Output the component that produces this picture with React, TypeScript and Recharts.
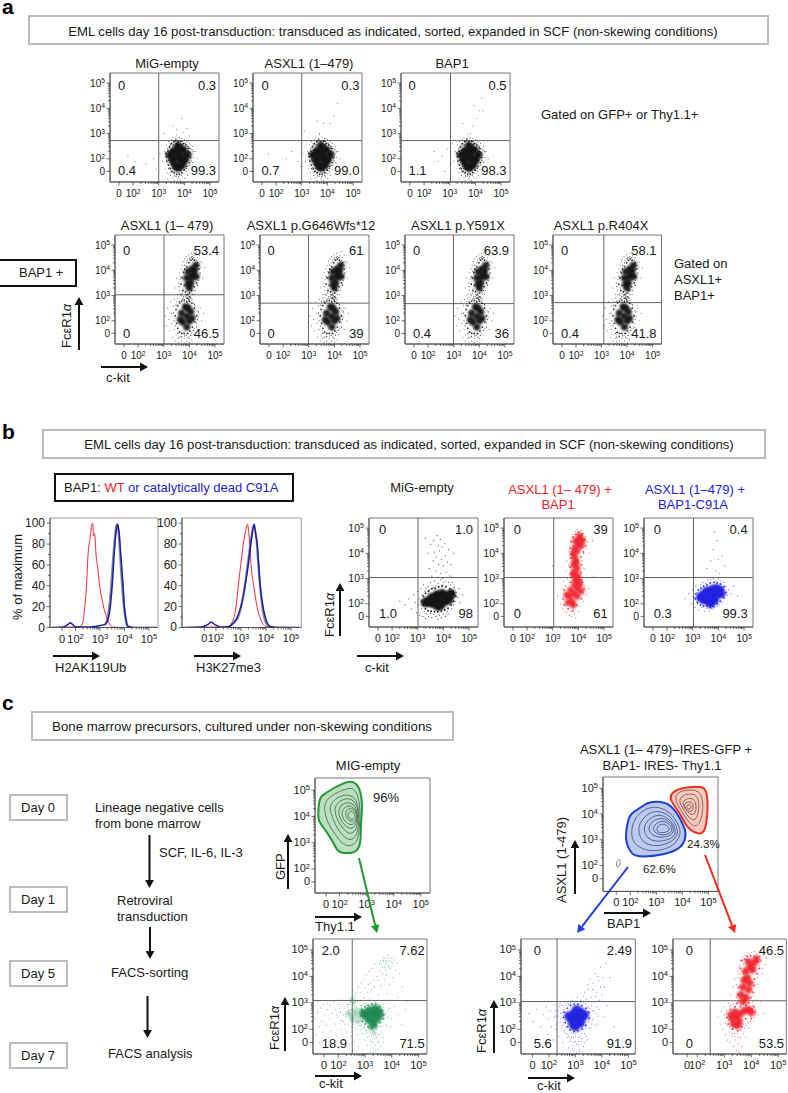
import React from "react";
import { Line, LineChart, ReferenceArea, ReferenceLine, Scatter, ScatterChart, XAxis, YAxis } from "recharts";

type Pt = [number, number];
const FONT = "'Liberation Sans', Arial, sans-serif";
const BLACK = "#151515";
const RED = "#f0202a";
const BLUE = "#2222e0";
const GREEN = "#1d8a50";

// cloud data, axis units: 10^n = n, "0" sits near 1.5
const lowCore: Pt[] = [[3.79,2.09],[3.6,2.3],[3.95,2.35],[3.55,1.95],[4,1.95],[3.75,1.65],[3.75,2.5],[3.45,2.15],[4.1,2.15],[3.85,2],[3.65,1.75],[3.9,1.75],[3.8,2.3],[3.68,2.12]];
const lowFringe: Pt[] = [[3.3,2.1],[3.32,1.9],[3.36,2.3],[3.38,1.75],[3.42,2.48],[3.45,1.6],[3.5,2.6],[3.52,1.5],[3.58,2.68],[3.6,1.45],[3.66,2.72],[3.7,1.38],[3.76,2.68],[3.8,1.4],[3.86,2.7],[3.9,1.45],[3.96,2.6],[4,1.55],[4.06,2.55],[4.1,1.7],[4.16,2.42],[4.2,1.85],[4.22,2.25],[4.25,2.05],[3.28,2.22],[3.4,1.95],[3.48,2.35],[3.5,1.78],[4.12,1.95],[4.15,2.3],[3.62,1.6],[3.85,1.55],[3.7,2.6],[3.9,2.55]];
const lowSpeck: Pt[] = [[3.25,2.2],[3.3,1.95],[3.35,2.4],[3.38,1.62],[3.42,2.2],[3.45,2.55],[3.48,1.48],[3.55,1.62],[3.58,2.55],[3.62,1.32],[3.68,2.78],[3.72,1.55],[3.78,1.28],[3.82,2.62],[3.88,1.35],[3.92,2.68],[3.98,1.55],[4.02,2.62],[4.08,1.62],[4.12,2.5],[4.18,1.75],[4.2,2.4],[4.25,1.95],[4.28,2.15],[4.3,2.35],[4.35,2.28],[4.33,1.85]];
const lowHalo: Pt[] = [[3.15,1.9],[3.22,2.3],[3.25,1.6],[3.3,2.55],[3.28,2.05],[3.35,1.45],[3.33,1.8],[3.38,2.7],[3.4,2.45],[3.36,1.2],[3.42,1.65],[3.44,2.62],[3.46,1.35],[3.5,2.75],[3.5,1.5],[3.52,2.55],[3.55,1.25],[3.55,2.85],[3.6,1.4],[3.62,2.7],[3.6,1.15],[3.65,2.8],[3.68,1.3],[3.7,2.95],[3.72,1.45],[3.75,2.7],[3.75,1.2],[3.8,2.85],[3.8,1.35],[3.85,2.7],[3.85,1.15],[3.88,1.48],[3.9,2.8],[3.92,1.28],[3.95,2.62],[3.98,1.42],[4,2.75],[4.02,1.22],[4.05,2.6],[4.08,1.5],[4.1,2.68],[4.12,1.35],[4.15,2.5],[4.18,1.6],[4.2,2.62],[4.22,1.75],[4.25,2.4],[4.28,1.9],[4.3,2.2],[4.32,2.5],[4.35,2.05],[4.38,1.7],[4.42,2.3],[4.5,2]];
const sparseA1: Pt[] = [[1.8,2.1],[2.1,1.9],[2.5,1.8],[2.8,2],[2.9,1.6],[3.05,2.2],[3.2,3],[3.55,3.3],[3.9,3.6],[3.7,3.15],[4.1,3.2],[3.95,3.05],[4.2,2.9]];
const sparseA2: Pt[] = [[1.7,2.2],[2.4,2],[2.6,2.3],[2.85,1.9],[3,2.2],[2.95,1.7],[3.1,3.1],[3.7,3],[3.85,3.4],[4.4,4.2],[4.25,3.7],[4.1,3.4],[3.6,3.5]];
const sparseA3: Pt[] = [[2.4,2.3],[2.55,1.9],[2.7,2.1],[2.8,1.5],[2.9,2.4],[3.05,1.8],[3.1,2.6],[3.5,3.4],[3.9,3.3],[4.25,4.4],[4.15,3.9],[4.05,3.6],[4.3,3.9],[3.8,3],[3.95,4.1]];

const twinCore: Pt[] = [[4.08,3.73],[3.95,3.45],[4,3.3],[4.2,4],[4.25,4.2],[4.1,4.05],[3.9,3.7],[4.25,3.75],[4.05,3.5],[4.15,3.85],[3.95,3.95],[3.89,2.18],[3.7,2.3],[4.05,2.35],[3.75,1.95],[4,2],[3.85,2.55],[3.9,1.75],[3.65,2.05],[4.1,2.1],[3.95,2.5]];
const twinFringe: Pt[] = [[3.68,3.45],[3.72,3.7],[3.75,3.2],[3.78,3.9],[3.8,3.4],[3.82,4.05],[3.85,3.15],[3.9,4.15],[3.92,3.05],[3.98,4.3],[4,3.1],[4.05,4.4],[4.08,3.2],[4.12,4.45],[4.18,3.35],[4.2,4.4],[4.28,3.5],[4.32,4.3],[4.35,3.75],[4.38,4.05],[4.02,2.95],[3.92,2.9],[3.98,2.85],[3.45,2.2],[3.48,2.45],[3.5,1.9],[3.55,2.6],[3.55,1.7],[3.62,2.72],[3.62,1.55],[3.7,2.78],[3.7,1.5],[3.8,2.8],[3.8,1.5],[3.9,2.75],[3.92,1.5],[4,2.78],[4.02,1.6],[4.1,2.7],[4.12,1.75],[4.2,2.5],[4.22,1.95],[4.28,2.2]];
const twinSpeck: Pt[] = [[3.6,3.35],[3.65,3.05],[3.68,3.75],[3.72,3.1],[3.75,3.95],[3.78,2.95],[3.82,4.2],[3.88,3],[3.9,4.3],[3.95,2.95],[4,4.45],[4.05,2.9],[4.08,4.52],[4.12,3.05],[4.18,4.5],[4.22,3.2],[4.28,4.4],[4.32,3.4],[4.38,4.2],[4.42,3.9],[3.38,2.3],[3.4,2],[3.45,1.8],[3.48,2.62],[3.55,1.5],[3.6,1.35],[3.6,2.78],[3.7,1.38],[3.75,2.88],[3.82,1.4],[3.88,2.88],[3.95,1.35],[4.05,1.42],[4.1,2.82],[4.15,1.62],[4.2,2.65],[4.28,1.75],[4.32,2.05],[4.35,2.35]];
const twinHalo: Pt[] = [[3.45,3.3],[3.5,3.7],[3.55,3.05],[3.58,3.5],[3.6,3.9],[3.62,3.2],[3.65,3.65],[3.68,4.05],[3.7,3],[3.72,4.2],[3.75,3.3],[3.78,4.35],[3.8,2.85],[3.82,4.45],[3.85,3.05],[3.88,4.55],[3.9,2.8],[3.92,4.4],[3.95,3],[3.98,4.62],[4,2.75],[4.02,4.5],[4.05,3.1],[4.08,4.68],[4.1,2.9],[4.12,4.55],[4.15,3.2],[4.18,4.7],[4.2,3.05],[4.22,4.58],[4.25,3.3],[4.28,4.75],[4.3,3.45],[4.32,4.5],[4.35,3.6],[4.38,4.6],[4.4,3.85],[4.42,4.35],[4.45,4.1],[4.5,4.3],[4.52,3.7],[4.6,4.1],[3.05,2.2],[3.1,1.8],[3.15,2.5],[3.2,2.05],[3.22,1.6],[3.28,2.75],[3.3,2.3],[3.32,1.9],[3.35,1.35],[3.38,2.6],[3.4,1.65],[3.42,2.85],[3.45,1.2],[3.48,1.45],[3.5,2.75],[3.55,1.3],[3.55,2.9],[3.6,1.55],[3.6,1.15],[3.65,2.7],[3.68,1.35],[3.7,1.2],[3.72,2.85],[3.75,1.5],[3.8,1.3],[3.8,1.12],[3.85,2.95],[3.88,1.42],[3.9,1.2],[3.95,1.5],[3.98,2.9],[4,1.3],[4.02,1.14],[4.05,2.75],[4.08,1.55],[4.1,1.25],[4.15,2.7],[4.15,1.45],[4.2,1.7],[4.22,2.6],[4.28,1.9],[4.3,2.4],[4.35,2.15],[4.38,1.65],[4.42,2.5],[4.48,2],[4.55,2.3]];

const migCore: Pt[] = [[3.87,2.15],[3.5,2.05],[3.65,2],[3.7,2.2],[3.9,1.95],[4.05,2.1],[4.1,2.3],[4.25,2.3],[4.2,2.15],[3.95,2.4],[3.75,2.35],[3.4,2.1],[3.55,2.25],[3.8,1.9],[4,2.25],[3.3,2.05],[4.3,2.4]];
const migFringe: Pt[] = [[3.15,2.1],[3.2,1.95],[3.22,2.3],[3.3,1.8],[3.3,2.42],[3.4,1.72],[3.42,2.5],[3.52,1.7],[3.55,2.6],[3.65,1.68],[3.68,2.62],[3.78,1.68],[3.82,2.68],[3.92,1.7],[3.95,2.7],[4.05,1.75],[4.1,2.68],[4.18,1.82],[4.25,2.6],[4.3,1.95],[4.38,2.5],[4.4,2.1],[4.48,2.3],[4.42,2.4]];
const migHalo: Pt[] = [[2.3,2.1],[2.5,1.95],[2.65,2.2],[2.75,1.8],[2.85,2.35],[2.9,2.05],[2.95,1.65],[3,2.5],[3.02,1.95],[3.05,2.2],[3.08,1.55],[3.12,2.6],[3.15,1.8],[3.18,2.35],[3.2,1.5],[3.22,2.75],[3.25,1.68],[3.28,2.5],[3.3,1.42],[3.32,2.62],[3.35,1.6],[3.4,2.7],[3.42,1.5],[3.45,2.55],[3.5,1.62],[3.5,2.85],[3.55,1.45],[3.6,2.65],[3.62,1.58],[3.65,2.9],[3.7,1.5],[3.72,2.7],[3.78,1.4],[3.8,2.8],[3.85,1.55],[3.9,2.95],[3.92,1.45],[3.95,2.75],[4,1.6],[4.02,2.85],[4.08,1.5],[4.1,2.9],[4.15,1.7],[4.2,2.85],[4.22,1.6],[4.28,2.75],[4.32,1.8],[4.35,2.85],[4.4,1.95],[4.42,2.65],[4.48,2.1],[4.5,2.45],[4.55,2.25],[4.6,2.6],[4.65,2.05],[4.75,2.35],[3.3,4.6],[3.4,4],[3.45,3.4],[3.5,4.35],[3.55,3.1],[3.6,3.7],[3.62,4.5],[3.65,4.05],[3.7,3.3],[3.72,3.85],[3.75,4.7],[3.78,3.05],[3.8,4.3],[3.82,3.55],[3.85,4.1],[3.88,4.55],[3.9,3.2],[3.92,3.75],[3.95,4.25],[3.98,3],[4,3.5],[4.05,4.4],[4.08,3.9],[4.1,3.25],[4.15,3.65],[4.2,4.15],[4.25,3.1],[4.3,3.55],[4.4,4]];

const bRedCore: Pt[] = [[3.97,4.36],[3.85,4.2],[4.05,4.55],[3.9,4.5],[4.1,4.3],[3.95,4.1],[4.05,4.7],[3.8,4],[4.15,4.5],[3.85,3.85],[3.9,3.7],[3.82,3.55],[3.95,3.4],[3.85,3.25],[3.98,3.1],[3.88,2.95],[4,2.9],[3.9,3.6],[3.8,3.15],[3.82,2.41],[3.65,2.3],[3.75,2.1],[3.95,2.6],[3.85,2.75],[4.05,2.75],[3.7,2.55],[3.6,2.05],[3.95,2.3],[3.8,1.95],[3.55,2.35],[4.1,2.5]];
const bRedFringe: Pt[] = [[3.68,4.2],[3.72,4.45],[3.72,3.95],[3.8,4.65],[3.9,4.75],[4,4.85],[4.15,4.75],[4.25,4.55],[4.28,4.3],[4.2,4.05],[4.1,3.85],[4.12,3.55],[4.1,3.25],[4.12,2.95],[3.7,3.8],[3.68,3.45],[3.7,3.2],[3.7,2.85],[3.45,2.55],[3.4,2.2],[3.45,1.95],[3.6,1.8],[3.78,1.72],[3.95,1.95],[4.12,2.2],[4.22,2.6],[4.15,2.85]];
const bRedHalo: Pt[] = [[3.2,2.3],[3.3,2],[3.35,2.6],[3.38,1.8],[3.42,2.9],[3.45,2.15],[3.48,1.7],[3.5,3.3],[3.5,2.7],[3.52,1.95],[3.55,3.7],[3.55,1.65],[3.58,3],[3.6,1.8],[3.6,4.1],[3.62,3.5],[3.65,1.55],[3.65,4.3],[3.68,2.85],[3.7,1.7],[3.7,4.5],[3.72,3.35],[3.75,4.65],[3.75,1.5],[3.78,3.8],[3.8,4.75],[3.85,1.6],[3.88,4.85],[3.9,1.45],[3.95,4.95],[3,3.5],[4,1.7],[4.05,1.9],[4.1,4.9],[4.12,3.2],[4.15,2.9],[4.15,3.7],[4.18,4.8],[4.2,2.1],[4.2,4],[4.22,3.4],[4.25,2.7],[4.28,4.65],[4.3,2.35],[4.3,4.2],[4.35,4.45],[4.4,2.6],[4.42,4],[4.55,4.5],[4.6,3.1]];

const bBlueCore: Pt[] = [[3.76,2.34],[3.45,2.15],[3.55,2.3],[3.65,2.1],[3.85,2.15],[3.95,2.4],[4.05,2.55],[3.9,2.6],[3.75,2.55],[3.55,2.5],[3.3,2.25],[3.4,2.35],[3.7,2.02],[4.1,2.4]];
const bBlueFringe: Pt[] = [[3.1,2.2],[3.12,2.4],[3.18,2.05],[3.22,2.55],[3.3,1.95],[3.32,2.62],[3.42,1.9],[3.42,2.7],[3.55,1.9],[3.55,2.75],[3.68,1.85],[3.68,2.82],[3.8,1.9],[3.82,2.85],[3.95,2],[3.95,2.82],[4.08,2.1],[4.08,2.78],[4.2,2.25],[4.22,2.68],[4.3,2.45]];
const bBlueHalo: Pt[] = [[2.7,2.2],[2.85,2.4],[2.95,2],[3,2.55],[3.05,2.25],[3.1,1.85],[3.12,2.7],[3.18,2.45],[3.2,2],[3.25,1.75],[3.3,2.75],[3.35,1.85],[3.4,2.85],[3.45,1.7],[3.5,2.8],[3.55,1.82],[3.6,2.95],[3.65,1.7],[3.7,2.95],[3.75,1.8],[3.8,3],[3.85,1.85],[3.9,2.9],[3.95,1.9],[4,3],[4.05,1.95],[4.1,2.9],[4.15,2.05],[4.2,2.85],[4.25,2.2],[4.3,2.7],[4.35,2.35],[4.4,2.55],[4.5,2.4],[4.6,2.7],[4.75,2.3],[3.55,3.4],[3.7,3.7],[3.8,4.15],[3.9,3.3],[3.95,4.5],[4,3.75],[4.05,3.2],[4.15,3.9],[4.25,3.5],[3.85,4.85]];

const gCore: Pt[] = [[3.26,2.54],[3.05,2.5],[3.15,2.35],[3.4,2.6],[3.45,2.4],[3.3,2.3],[3.2,2.72],[3.38,2.78],[3.55,2.55],[2.95,2.6],[3.1,2.65],[3.5,2.7],[3.3,2.15]];
const gFringe: Pt[] = [[2.85,2.5],[2.88,2.75],[2.9,2.3],[3,2.85],[3,2.2],[3.12,2.9],[3.12,2.1],[3.25,2.95],[3.25,2.05],[3.4,2.95],[3.42,2.15],[3.55,2.85],[3.55,2.25],[3.65,2.7],[3.68,2.4],[3.7,2.55]];
const gBand: Pt[] = [[2.45,2.55],[2.55,2.45],[2.65,2.6],[2.75,2.5],[2.85,2.35],[2.9,2.65],[2.6,2.7],[2.5,2.35],[2.7,2.3],[2.8,2.72],[2.35,2.62],[2.58,3],[2.52,3.15],[3.2,2],[3.35,1.85]];
const gHalo: Pt[] = [[1.12,2.9],[1.15,2.4],[1.18,1.8],[1.22,2.65],[1.25,3.05],[1.28,2.1],[1.3,1.5],[1.35,2.8],[1.38,2.3],[1.42,1.9],[1.45,2.95],[1.48,2.55],[1.5,1.3],[1.55,2.15],[1.58,2.75],[1.6,3],[1.62,1.7],[1.68,2.4],[1.7,2.9],[1.72,1.95],[1.78,2.6],[1.8,1.45],[1.82,3.05],[1.88,2.2],[1.9,2.75],[1.92,1.75],[1.98,2.45],[2,2.95],[2.02,1.3],[2.08,2.65],[2.1,2],[2.12,3.1],[2.18,2.3],[2.2,1.6],[2.22,2.8],[2.28,2.5],[2.3,1.9],[2.32,2.95],[2.38,2.2],[2.4,1.4],[2.42,3.35],[2.45,2.75],[2.48,1.75],[2.5,2.1],[2.52,2.9],[2.55,1.2],[2.58,2.2],[2.6,1.55],[2.62,3.3],[2.65,2],[2.68,2.85],[2.7,1.8],[2.72,3.05],[2.75,1.35],[2.78,2.15],[2.8,1.6],[2.82,3.4],[2.85,2],[2.88,2.9],[2.9,1.85],[2.92,1.25],[2.95,3.2],[2.98,2.1],[3,1.6],[3,3.55],[3.02,1.95],[3.05,2.95],[3.08,1.4],[3.1,2.1],[3.12,3.7],[3.15,1.75],[3.18,3.1],[3.2,1.15],[3.22,1.55],[3.25,3.5],[3.28,1.9],[3.3,1.3],[3.32,3.85],[3.35,1.65],[3.38,3.05],[3.4,1.2],[3.42,2],[3.45,4],[3.48,1.5],[3.5,3.3],[3.52,1.8],[3.55,4.2],[3.58,1.35],[3.6,3.65],[3.62,2.1],[3.65,4.35],[3.68,2.95],[3.7,1.7],[3.7,4.55],[3.72,3.9],[3.75,4.7],[3.75,2.2],[3.78,4.25],[3.8,4.5],[3.82,3.35],[3.85,4.8],[3.85,2.7],[3.88,4.4],[3.9,4.6],[3.92,3.7],[3.95,4.3],[3.98,2.4],[4,4.7],[4.02,4.5],[4.05,3.95],[4.08,4.4],[4.1,2.85],[4.12,4.62],[4.15,4.25],[4.2,4.5],[4.22,3.2],[4.25,2.55],[4.3,4.1],[4.35,2.2],[4.4,3.6],[4.5,2.75],[4.6,3.05],[3.6,4.45],[3.68,4.6],[3.72,4.4],[3.78,4.6],[3.82,4.55],[3.58,4.6],[3.88,4.7],[3.75,4.35]];
const gHalo2: Pt[] = [[2.4,2.7],[2.42,2.45],[2.5,2.75],[2.55,2.3],[2.6,2.85],[2.62,2.55],[2.68,2.4],[2.7,2.8],[2.75,2.25],[2.78,2.62],[2.82,2.9],[2.85,2.15],[2.9,2.45],[2.92,2.95],[2.95,2.05],[3,3],[3.02,2.3],[3.05,1.85],[3.08,2.9],[3.1,1.7],[3.15,2.05],[3.18,2.95],[3.2,1.85],[3.22,1.4],[3.25,1.75],[3.28,2.98],[3.3,1.5],[3.32,1.1],[3.35,1.95],[3.38,1.4],[3.4,3],[3.42,1.7],[3.45,2.05],[3.48,1.25],[3.5,2.95],[3.52,1.55],[3.55,2.1],[3.6,2.9],[3.62,1.9],[3.65,2.25],[3.68,1.5],[3.7,2.85],[3.72,2.4],[3.78,2.6],[3.8,2.15],[3.85,2.45],[3.9,2.8],[3.95,2.1],[2.2,2.55],[2.1,2.35],[2.05,2.8],[1.95,2.55],[2.25,2.2],[2.35,2.85],[2.4,2.95],[2.45,3.05],[2.55,3.1],[2.65,3.4],[2.75,3.6],[2.85,3.75],[2.95,3.9],[3.05,4.05],[3.15,4.2],[3.25,4.3],[3.35,4.45],[3.45,4.55],[3.1,3.4],[3.2,3.75],[3.35,3.6],[3.48,3.85],[3.55,4.5],[3.65,4.1],[3.7,4.7],[3.8,4.05],[3.9,4.35],[4,4.55]];

const cbCore: Pt[] = [[3.06,2.48],[2.85,2.4],[2.95,2.6],[3.2,2.65],[3.25,2.45],[3.1,2.25],[2.9,2.2],[3.05,2.75],[3.35,2.55],[2.75,2.5],[3,2.1],[3.2,2.25]];
const cbFringe: Pt[] = [[2.55,2.45],[2.58,2.65],[2.62,2.25],[2.7,2.8],[2.7,2.1],[2.82,2.9],[2.8,1.98],[2.95,2.95],[2.95,1.92],[3.1,2.95],[3.1,1.95],[3.25,2.9],[3.25,2.02],[3.4,2.8],[3.4,2.15],[3.5,2.65],[3.52,2.4]];
const cbHalo: Pt[] = [[1.25,2.6],[1.4,2.3],[1.55,2.75],[1.7,2.1],[1.8,2.55],[1.9,2.85],[1.95,1.8],[2,2.4],[2.05,2.7],[2.1,2.1],[2.15,1.6],[2.2,2.9],[2.25,2.5],[2.28,2],[2.32,2.25],[2.35,2.7],[2.38,1.75],[2.42,2.95],[2.45,2.4],[2.48,2.05],[2.5,2.65],[2.52,1.5],[2.55,2.25],[2.58,2.85],[2.6,1.9],[2.62,2.5],[2.65,2.05],[2.68,3],[2.7,1.7],[2.72,2.25],[2.75,1.3],[2.78,2],[2.8,2.95],[2.82,1.6],[2.85,1.85],[2.88,3.1],[2.9,1.4],[2.92,1.7],[2.95,1.2],[2.98,3.05],[3,1.55],[3.02,1.85],[3.05,1.1],[3.08,3.2],[3.1,1.4],[3.12,1.7],[3.15,1.25],[3.18,1.95],[3.2,3],[3.22,1.55],[3.25,1.85],[3.28,1.15],[3.3,3.25],[3.32,2],[3.35,1.5],[3.38,2.15],[3.4,2.95],[3.42,1.75],[3.45,2.25],[3.48,3.5],[3.5,2.05],[3.52,2.8],[3.55,2.45],[3.6,3.2],[3.62,2.2],[3.65,2.7],[3.68,3.75],[3.7,2.4],[3.72,3.05],[3.75,4.1],[3.78,2.6],[3.8,3.4],[3.85,2.2],[3.88,3.85],[3.9,2.75],[3.95,4.35],[4,3.3],[4.05,2.5],[4.1,3.6],[4.15,4.5],[4.2,2.9],[4.3,3.95],[4.45,2.1]];
const cbHalo2: Pt[] = [[2.2,2.45],[2.25,2.7],[2.3,2.15],[2.35,2.5],[2.4,2.85],[2.42,2.25],[2.45,2.6],[2.5,2.9],[2.52,2.15],[2.55,2.75],[2.58,1.95],[2.6,2.35],[2.65,2.9],[2.68,1.85],[2.7,2.6],[2.75,2.95],[2.75,1.75],[2.8,1.55],[2.82,3],[2.85,1.7],[2.88,1.25],[2.9,3.05],[2.92,1.85],[2.95,1.5],[3,1.75],[3,3.05],[3.05,1.45],[3.08,1.9],[3.1,3.05],[3.12,1.55],[3.15,1.15],[3.18,1.75],[3.2,3.1],[3.25,1.65],[3.28,2],[3.3,1.35],[3.32,3],[3.35,1.85],[3.4,2.05],[3.42,3.15],[3.45,1.6],[3.48,2.85],[3.5,2.3],[3.55,2.65],[3.58,2.05],[3.6,2.9],[3.65,2.35],[3.7,2.7],[3.75,2.15],[3.8,2.85],[3.85,2.5],[3.9,3.1],[3.35,3.4],[3.45,3.7],[3.55,3.9],[3.65,3.5],[3.75,3.25],[3.85,4],[3.95,3.6],[4.05,3.95]];

const crCore: Pt[] = [[3.96,4.36],[3.8,4.2],[4.1,4.5],[3.9,4.55],[4.05,4.25],[3.85,3.95],[4.2,4.65],[3.75,3.85],[3.95,3.75],[3.7,3.6],[3.9,3.5],[3.62,3.3],[3.8,3.2],[3.7,3.05],[3.47,2.48],[3.3,2.4],[3.55,2.3],[3.4,2.65],[3.6,2.6],[3.25,2.55],[3.75,2.7],[3.9,2.75],[3.5,2.15],[4,2.65],[3.35,2.2]];
const crFringe: Pt[] = [[3.6,4.3],[3.65,4.6],[3.72,4.1],[3.75,4.65],[3.85,4.75],[3.98,4.78],[4.12,4.75],[4.25,4.55],[4.3,4.3],[4.22,4.1],[4.12,3.9],[4.1,3.65],[4.05,3.4],[3.98,3.2],[3.9,3],[3.55,3.6],[3.5,3.3],[3.48,3],[3.1,2.45],[3.15,2.2],[3.22,2.75],[3.3,2],[3.4,2.85],[3.5,1.95],[3.65,2.1],[3.8,2.4],[4,2.4],[4.15,2.65],[4.1,2.85],[3.6,2.85],[3.8,2.9]];
const crHalo: Pt[] = [[2.75,2.5],[2.85,2.2],[2.9,2.7],[2.95,2],[3,2.85],[3,2.4],[3.05,1.8],[3.08,2.6],[3.1,2.15],[3.12,1.6],[3.15,3],[3.18,1.9],[3.2,2.85],[3.22,1.5],[3.25,3.3],[3.28,1.75],[3.3,2],[3.32,3.6],[3.35,1.35],[3.38,1.85],[3.4,3.9],[3.42,1.6],[3.45,1.2],[3.45,3.2],[3.48,4.2],[3.5,1.85],[3.5,3.55],[3.52,1.45],[3.55,4.35],[3.55,1.15],[3.58,3.9],[3.6,1.7],[3.6,4.6],[3.62,2],[3.65,4.2],[3.65,1.35],[3.68,4.75],[3.7,1.85],[3.72,4.45],[3.75,2.05],[3.78,4.8],[3.8,1.7],[3.82,4.65],[3.85,2.25],[3.85,3.45],[3.88,4.9],[3.9,2.05],[3.92,3.15],[3.95,4.85],[3.98,2.3],[4,3.55],[4.02,4.9],[4.05,2.9],[4.08,3.25],[4.1,2.45],[4.12,4.95],[4.15,3.7],[4.18,2.75],[4.2,4.85],[4.22,3.95],[4.25,2.55],[4.28,4.3],[4.3,4.75],[4.35,3.05],[4.38,4.55],[4.4,4.1],[4.45,2.6],[4.5,4.45],[4.55,4.7],[4.62,3.9],[5.1,4.7]];
const crHalo2: Pt[] = [[3,2.55],[3.05,2.25],[3.1,2.7],[3.15,2.35],[3.2,2.05],[3.25,2.9],[3.3,1.85],[3.35,2.95],[3.4,1.75],[3.45,2.95],[3.5,1.7],[3.55,3.05],[3.6,1.95],[3.65,2.95],[3.7,2.2],[3.75,3.1],[3.8,2.15],[3.85,2.95],[3.9,2.25],[3.95,3],[4,2.5],[4.05,3.05],[4.1,2.3],[4.12,3.4],[4.15,2.55],[4.2,3.1],[4.25,3.7],[4.3,4.4],[4.35,4.6],[4.4,4.3],[3.45,3.7],[3.5,3.95],[3.55,4.1],[3.6,4.4],[3.6,3.4],[3.55,3.1]];

// contour rings, outermost first
const greenRings: Pt[][] = [
  [[1.21,4.28],[1.27,4.73],[1.52,4.92],[1.95,5.18],[2.38,5.37],[2.65,5.24],[2.78,4.92],[2.84,4.41],[2.78,3.64],[2.78,3],[2.63,2.64],[2.26,2.59],[1.95,2.64],[1.77,3],[1.46,3.51],[1.21,3.83]],
  [[1.42,4.3],[1.5,4.62],[1.78,4.85],[2.2,5.05],[2.5,5.1],[2.68,4.8],[2.76,4.3],[2.74,3.6],[2.66,3.05],[2.4,2.85],[2.1,2.95],[1.85,3.3],[1.55,3.75]],
  [[1.62,4.28],[1.72,4.55],[2,4.78],[2.35,4.85],[2.62,4.65],[2.72,4.2],[2.7,3.6],[2.6,3.22],[2.38,3.08],[2.12,3.25],[1.85,3.65]],
  [[1.8,4.25],[1.9,4.5],[2.15,4.68],[2.45,4.68],[2.66,4.4],[2.7,3.95],[2.62,3.5],[2.4,3.3],[2.15,3.5],[1.92,3.85]],
  [[1.95,4.2],[2.05,4.45],[2.3,4.55],[2.55,4.45],[2.68,4.1],[2.62,3.7],[2.42,3.5],[2.2,3.65],[2.02,3.9]],
  [[2.08,4.18],[2.2,4.38],[2.42,4.42],[2.62,4.22],[2.66,3.95],[2.55,3.72],[2.38,3.68],[2.2,3.8],[2.1,4]],
  [[2.2,4.12],[2.3,4.3],[2.5,4.3],[2.64,4.1],[2.6,3.85],[2.42,3.8],[2.28,3.9]],
  [[2.3,4.1],[2.4,4.22],[2.55,4.15],[2.58,3.95],[2.45,3.88],[2.33,3.95]],
];
const redRings: Pt[][] = [
  [[3.45,4.66],[3.83,5.01],[4.67,5.08],[4.92,4.95],[4.99,4.36],[4.92,3.58],[4.79,3.23],[4.47,3.26],[4.15,3.52],[3.9,4.04]],
  [[3.68,4.62],[3.9,4.9],[4.5,4.95],[4.75,4.75],[4.8,4.25],[4.72,3.75],[4.55,3.5],[4.3,3.6],[4,4.05]],
  [[3.85,4.55],[4.1,4.78],[4.5,4.78],[4.65,4.5],[4.62,4.05],[4.5,3.75],[4.3,3.8],[4.05,4.15]],
  [[3.98,4.45],[4.2,4.62],[4.45,4.6],[4.55,4.3],[4.48,3.98],[4.3,3.98],[4.1,4.2]],
  [[4.05,4.38],[4.25,4.5],[4.42,4.42],[4.42,4.15],[4.28,4.08],[4.12,4.22]],
  [[4.15,4.32],[4.28,4.38],[4.36,4.28],[4.28,4.18],[4.17,4.24]],
];
const blueRings: Pt[][] = [
  [[1.85,3.45],[1.97,3.97],[2.36,4.23],[2.74,4.49],[3.38,4.47],[3.77,4.1],[4.03,3.58],[4.15,3.26],[4.05,2.81],[3.64,2.52],[2.87,2.35],[2.17,2.35],[1.95,2.61],[1.82,3]],
  [[2.05,3.45],[2.2,3.9],[2.65,4.25],[3.1,4.28],[3.55,4.05],[3.85,3.6],[3.95,3.25],[3.75,2.85],[3.3,2.6],[2.7,2.55],[2.25,2.75],[2.05,3.05]],
  [[2.3,3.45],[2.45,3.8],[2.8,4.1],[3.2,4.1],[3.55,3.9],[3.8,3.5],[3.82,3.15],[3.55,2.9],[3.1,2.75],[2.65,2.8],[2.38,3.05]],
  [[2.5,3.42],[2.65,3.75],[2.95,3.95],[3.25,3.95],[3.55,3.75],[3.75,3.4],[3.7,3.12],[3.4,2.98],[3,2.92],[2.65,3.05]],
  [[2.68,3.42],[2.8,3.68],[3.05,3.82],[3.35,3.82],[3.6,3.6],[3.68,3.35],[3.55,3.15],[3.2,3.08],[2.85,3.15]],
  [[2.85,3.4],[2.95,3.6],[3.15,3.72],[3.4,3.7],[3.58,3.5],[3.6,3.3],[3.35,3.18],[3.05,3.2]],
  [[3,3.4],[3.1,3.58],[3.3,3.62],[3.5,3.48],[3.48,3.32],[3.25,3.27],[3.08,3.28]],
];
const strayRing: Pt[] = [[1.45,2],[1.5,2.2],[1.6,2.25],[1.62,2.05],[1.52,1.9]];

// histograms: [log value, % of max]
const h1Red: Pt[] = [[1,0],[1.6,0.3],[2,0.5],[2.2,1],[2.3,5],[2.38,20],[2.45,40],[2.52,72],[2.6,86],[2.66,98],[2.7,100],[2.74,88],[2.78,90],[2.84,70],[2.92,55],[3,38],[3.1,25],[3.2,15],[3.3,8],[3.4,3],[3.5,0.5],[4,0],[5.3,0]];
const h1Grey: Pt[] = [[3.2,2],[3.3,8],[3.4,25],[3.5,55],[3.6,85],[3.68,99],[3.75,92],[3.82,70],[3.9,40],[4,14],[4.1,2],[4.3,0]];
const h1Blue: Pt[] = [[1,0],[1.5,0.5],[1.7,3],[1.78,4.5],[1.88,3],[2,0.5],[2.4,0.5],[2.8,1],[3,2],[3.2,3],[3.3,6],[3.4,16],[3.5,40],[3.58,70],[3.65,90],[3.72,99],[3.78,92],[3.85,70],[3.93,45],[4,20],[4.08,6],[4.15,1],[4.4,0],[5.3,0]];
const h2Red: Pt[] = [[0.7,0],[1.6,0.5],[2.2,0.3],[2.44,0.5],[2.64,5],[2.8,20],[2.89,40],[3,62],[3.09,80],[3.18,92],[3.26,99],[3.33,85],[3.4,60],[3.52,38],[3.64,20],[3.8,7],[4.04,0.5],[5.3,0]];
const h2Grey: Pt[] = [[2.6,3],[2.85,8],[3.05,25],[3.25,58],[3.4,85],[3.5,98],[3.6,88],[3.72,50],[3.9,12],[4.1,1],[4.3,0]];
const h2Blue: Pt[] = [[0.7,0],[1.4,0.5],[1.68,3],[1.8,5],[1.95,3],[2.15,0.5],[2.5,0.8],[2.72,5],[2.85,10],[3.09,30],[3.29,60],[3.42,85],[3.53,99],[3.58,90],[3.64,82],[3.77,40],[3.97,10],[4.17,1],[4.5,0],[5.3,0]];

const majorExp = [2, 3, 4, 5];
const minorTicks = [2.3,2.48,2.6,2.7,2.78,2.85,2.9,2.95,3.3,3.48,3.6,3.7,3.78,3.85,3.9,3.95,4.3,4.48,4.6,4.7,4.78,4.85,4.9,4.95];
const pctTicks = [0, 20, 40, 60, 80, 100];
const pctMinor = [10, 30, 50, 70, 90];

const pts = (a: Pt[]) => a.map(([x, y]) => ({ x, y }));

function makeXTick(zero: number, size: number) {
  return ({ x, y, payload }: any) => {
    const v = payload.value;
    const major = v === zero || majorExp.includes(v);
    return (
      <g>
        <line x1={x} x2={x} y1={y} y2={y + (major ? 3.5 : 2)} stroke="#333" strokeWidth={0.7} />
        {major && (
          <text x={x} y={y + 15} textAnchor="middle" fontSize={size} fill="#222" fontFamily={FONT}>
            {v === zero ? "0" : "10"}
            {v !== zero && <tspan dy={-3.5} fontSize={size * 0.68}>{v}</tspan>}
          </text>
        )}
      </g>
    );
  };
}

function makeYTick(zero: number, size: number) {
  return ({ x, y, payload }: any) => {
    const v = payload.value;
    const major = v === zero || majorExp.includes(v);
    return (
      <g>
        <line x1={x} x2={x - (major ? 3.5 : 2)} y1={y} y2={y} stroke="#333" strokeWidth={0.7} />
        {major && (
          <text x={x - 5} y={y + 3.5} textAnchor="end" fontSize={size} fill="#222" fontFamily={FONT}>
            {v === zero ? "0" : "10"}
            {v !== zero && <tspan dy={-3.5} fontSize={size * 0.68}>{v}</tspan>}
          </text>
        )}
      </g>
    );
  };
}

const smoothLoop = (p: { x: number; y: number }[]) => {
  const mid = (a: any, b: any) => `${(a.x + b.x) / 2} ${(a.y + b.y) / 2}`;
  let d = `M${mid(p[p.length - 1], p[0])}`;
  p.forEach((q, i) => {
    d += `Q${q.x} ${q.y} ${mid(q, p[(i + 1) % p.length])}`;
  });
  return d + "Z";
};

type Layer = { data: Pt[]; r: number; color: string; o?: number; blur?: boolean };
type Ring = { data: Pt[]; stroke: string; width: number; fill?: string };

type FlowProps = {
  left: number; top: number; w: number; h: number;
  xDom: number[]; yDom: number[]; xZero?: number; yZero?: number;
  gate?: number[];
  layers?: Layer[];
  rings?: Ring[];
  tickSize?: number;
};

function Flow({ left, top, w, h, xDom, yDom, xZero = 1.45, yZero = 1.5, gate, layers = [], rings = [], tickSize = 10 }: FlowProps) {
  const pad = 40;
  return (
    <div style={{ position: "absolute", left: left - pad, top: top - 6 }}>
      <ScatterChart width={w + pad + 6} height={h + 6 + 26} margin={{ top: 6, right: 6, left: 0, bottom: 0 }}>
        <XAxis type="number" dataKey="x" domain={xDom} allowDataOverflow ticks={[xZero, ...majorExp, ...minorTicks]} interval={0}
          height={26} tickSize={0} tickMargin={0} tickLine={false} axisLine={{ stroke: "#555", strokeWidth: 1 }} tick={makeXTick(xZero, tickSize)} />
        <YAxis type="number" dataKey="y" domain={yDom} allowDataOverflow ticks={[yZero, ...majorExp, ...minorTicks]} interval={0}
          width={pad} tickSize={0} tickMargin={0} tickLine={false} axisLine={{ stroke: "#555", strokeWidth: 1 }} tick={makeYTick(yZero, tickSize)} />
        <ReferenceArea x1={xDom[0]} x2={xDom[1]} y1={yDom[0]} y2={yDom[1]} fill="none" stroke="#777" strokeWidth={1} />
        {rings.map((ring, i) => (
          <Scatter key={"ring" + i} data={pts(ring.data)} isAnimationActive={false} shape={() => <g />}
            line={(lp: any) => <path d={smoothLoop(lp.points)} fill={ring.fill ?? "none"} stroke={ring.stroke} strokeWidth={ring.width} />} />
        ))}
        {layers.map((l, i) => (
          <Scatter key={"dots" + i} data={pts(l.data)} isAnimationActive={false}
            shape={(p: any) => <circle cx={p.cx} cy={p.cy} r={l.r} fill={l.color} fillOpacity={l.o ?? 1} style={l.blur ? { filter: "blur(0.8px)" } : undefined} />} />
        ))}
        {gate && <ReferenceLine x={gate[0]} stroke="#666" strokeWidth={1} />}
        {gate && <ReferenceLine y={gate[1]} stroke="#666" strokeWidth={1} />}
      </ScatterChart>
    </div>
  );
}

function Hist({ left, top, w, h, xDom, xZero, series }: any) {
  const pad = 40;
  return (
    <div style={{ position: "absolute", left: left - pad, top: top - 6 }}>
      <LineChart width={w + pad + 6} height={h + 6 + 26} margin={{ top: 6, right: 6, left: 0, bottom: 0 }}>
        <XAxis type="number" dataKey="x" domain={xDom} allowDataOverflow ticks={[xZero, ...majorExp, ...minorTicks]} interval={0}
          height={26} tickSize={0} tickMargin={0} tickLine={false} axisLine={{ stroke: "#555" }} tick={makeXTick(xZero, 11)} allowDuplicatedCategory={false} />
        <YAxis type="number" domain={[0, 105]} allowDataOverflow ticks={[...pctTicks, ...pctMinor]} interval={0}
          width={pad} tickSize={0} tickMargin={0} tickLine={false} axisLine={{ stroke: "#555" }}
          tick={({ x, y, payload }: any) => (
            <g>
              <line x1={x} x2={x - (pctTicks.includes(payload.value) ? 3.5 : 2)} y1={y} y2={y} stroke="#333" strokeWidth={0.7} />
              {pctTicks.includes(payload.value) && (
                <text x={x - 5} y={y + 4} textAnchor="end" fontSize={12} fill="#222" fontFamily={FONT}>{payload.value}</text>
              )}
            </g>
          )} />
        <ReferenceArea x1={xDom[0]} x2={xDom[1]} y1={0} y2={105} fill="none" stroke="#999" strokeWidth={1} />
        {series.map((s: any, i: number) => (
          <Line key={i} data={pts(s.data)} dataKey="y" type="monotone" dot={false} stroke={s.color} strokeWidth={s.width} isAnimationActive={false} />
        ))}
      </LineChart>
    </div>
  );
}

const T = ({ x, y, s = 13, a = "start", c = "#1a1a1a", rot, w, children }: any) => (
  <text x={x} y={y} fontSize={s} textAnchor={a} fill={c} fontWeight={w} fontFamily={FONT} transform={rot ? `rotate(${rot} ${x} ${y})` : undefined}>
    {children}
  </text>
);

const Arrow = ({ x1, y1, x2, y2, c = "#111", w = 2, head = 8 }: any) => {
  const len = Math.hypot(x2 - x1, y2 - y1);
  const ux = (x2 - x1) / len, uy = (y2 - y1) / len;
  const bx = x2 - ux * head, by = y2 - uy * head;
  const hw = head * 0.55;
  return (
    <g>
      <line x1={x1} y1={y1} x2={bx} y2={by} stroke={c} strokeWidth={w} />
      <polygon points={`${x2},${y2} ${bx - uy * hw},${by + ux * hw} ${bx + uy * hw},${by - ux * hw}`} fill={c} />
    </g>
  );
};

const Fc = () => (
  <>Fc{"\u03b5"}R1<tspan fontStyle="italic">{"\u03b1"}</tspan></>
);

const Quad = ({ left, top, w, h, vals, s = 13, yt = 17, yb = 7, xl = 8, xr = 3 }: any) => (
  <>
    <T x={left + xl} y={top + yt} s={s}>{vals[0]}</T>
    <T x={left + w - xr} y={top + yt} s={s} a="end">{vals[1]}</T>
    <T x={left + xl} y={top + h - yb} s={s}>{vals[2]}</T>
    <T x={left + w - xr} y={top + h - yb} s={s} a="end">{vals[3]}</T>
  </>
);

const Box = ({ x, y, w, h, c = "#bdbdbd", sw = 2 }: any) => <rect x={x} y={y} width={w} height={h} fill="#fff" stroke={c} strokeWidth={sw} />;

const dom = { x: [1.1, 5.35], y: [1.08, 5.4] };
const rowA = [
  { left: 110, top: 73.3, w: 109, h: 109, gate: [3, 2.72], sparse: sparseA1, vals: ["0", "0.3", "0.4", "99.3"] },
  { left: 253.4, top: 73.3, w: 109, h: 109, gate: [3, 2.72], sparse: sparseA2, vals: ["0", "0.3", "0.7", "99.0"] },
  { left: 400.5, top: 73.3, w: 109, h: 109, gate: [3.03, 2.72], sparse: sparseA3, vals: ["0", "0.5", "1.1", "98.3"] },
];
const rowA2 = [
  { left: 115, top: 235, w: 109, h: 109, gate: [3.01, 3.03], vals: ["0", "53.4", "0", "46.5"] },
  { left: 259.5, top: 235, w: 109, h: 109, gate: [2.99, 2.7], vals: ["0", "61", "0", "39"] },
  { left: 405, top: 235, w: 109, h: 109, gate: [2.99, 2.68], vals: ["0", "63.9", "0.4", "36"] },
  { left: 553, top: 235, w: 108.5, h: 109, gate: [3.09, 2.72], vals: ["0", "58.1", "0.4", "41.8"] },
];
const rowB = [
  { left: 369, gate: [3.01, 3.04], vals: ["0", "1.0", "1.0", "98"], layers: [{ data: migHalo, r: 0.6, color: BLACK, o: 0.75 }, { data: migFringe, r: 1, color: BLACK, o: 0.9 }, { data: migCore, r: 4.6, color: BLACK, blur: true }] },
  { left: 503.7, gate: [3.04, 3.04], vals: ["0", "39", "0", "61"], layers: [{ data: bRedHalo, r: 0.6, color: RED, o: 0.7 }, { data: bRedFringe, r: 1, color: RED, o: 0.8 }, { data: bRedCore, r: 3.4, color: RED, o: 0.9, blur: true }] },
  { left: 643.7, gate: [3.03, 3.04], vals: ["0", "0.4", "0.3", "99.3"], layers: [{ data: bBlueHalo, r: 0.6, color: BLUE, o: 0.7 }, { data: bBlueFringe, r: 1, color: BLUE, o: 0.85 }, { data: bBlueCore, r: 4.6, color: BLUE, blur: true }] },
];

export default function App() {
  return (
    <div style={{ position: "absolute", left: 0, top: 0, width: 788, height: 1093, background: "#fff", overflow: "hidden" }}>
      {rowA.map((p, i) => (
        <Flow key={i} left={p.left} top={p.top} w={p.w} h={p.h} xDom={dom.x} yDom={dom.y} gate={p.gate}
          layers={[{ data: p.sparse, r: 0.5, color: BLACK, o: 0.7 }, { data: lowHalo, r: 0.5, color: BLACK, o: 0.7 }, { data: lowSpeck, r: 0.6, color: BLACK, o: 0.8 }, { data: lowFringe, r: 0.9, color: BLACK, o: 0.9 }, { data: lowCore, r: 4.4, color: BLACK, blur: true }]} />
      ))}
      {rowA2.map((p, i) => (
        <Flow key={i} left={p.left} top={p.top} w={p.w} h={p.h} xDom={dom.x} yDom={dom.y} gate={p.gate}
          layers={[{ data: twinHalo, r: 0.5, color: BLACK, o: 0.7 }, { data: twinSpeck, r: 0.6, color: BLACK, o: 0.8 }, { data: twinFringe, r: 0.9, color: BLACK, o: 0.85 }, { data: twinCore, r: 3.6, color: BLACK, o: 0.95, blur: true }]} />
      ))}
      <Hist left={50} top={518} w={108} h={109.5} xDom={[0.96, 5.37]} xZero={1.45}
        series={[{ data: h1Grey, color: "#888", width: 2 }, { data: h1Red, color: "#ee2a30", width: 1 }, { data: h1Blue, color: "#1c1cb0", width: 1.5 }]} />
      <Hist left={181.7} top={518} w={119.3} h={109.5} xDom={[0.64, 5.41]} xZero={1.53}
        series={[{ data: h2Grey, color: "#888", width: 2 }, { data: h2Red, color: "#ee2a30", width: 1 }, { data: h2Blue, color: "#1c1cb0", width: 1.5 }]} />
      {rowB.map((p, i) => (
        <Flow key={i} left={p.left} top={517.7} w={109} h={109} xDom={dom.x} yDom={dom.y} gate={p.gate} layers={p.layers} tickSize={10.5} />
      ))}
      <Flow left={315} top={777.7} w={115} h={115} xDom={[1.09, 5.34]} yDom={[1.08, 5.47]} xZero={1.5} tickSize={11}
        rings={greenRings.map((r, i) => i === 0 ? { data: r, stroke: "#1f9a34", width: 2, fill: "#bcdfc0" } : { data: r, stroke: "#3f6b4c", width: 0.8 })} />
      <Flow left={603.3} top={777.3} w={115} h={114.4} xDom={[0.95, 5.37]} yDom={[0.99, 5.44]} xZero={1.46} yZero={1.48} tickSize={11}
        rings={[
          ...redRings.map((r, i) => i === 0 ? { data: r, stroke: "#e8341f", width: 2, fill: "#f6c8be" } : { data: r, stroke: "#7d4d48", width: 0.8 }),
          ...blueRings.map((r, i) => i === 0 ? { data: r, stroke: "#1c3fd8", width: 2, fill: "#bccaf0" } : { data: r, stroke: "#3f4a7c", width: 0.8 }),
          { data: strayRing, stroke: "#888", width: 1 },
        ]} />
      <Flow left={312.7} top={939} w={114} h={115} xDom={[1.05, 5.32]} yDom={[1.07, 5.41]} xZero={1.46} gate={[2.52, 3.09]} tickSize={11}
        layers={[{ data: gHalo, r: 0.6, color: GREEN, o: 0.55 }, { data: gHalo2, r: 0.6, color: GREEN, o: 0.6 }, { data: gBand, r: 2.2, color: GREEN, o: 0.4, blur: true }, { data: gFringe, r: 1, color: GREEN, o: 0.8 }, { data: gCore, r: 4.2, color: GREEN, o: 0.9, blur: true }]} />
      <Flow left={520.7} top={939} w={114.3} h={115} xDom={[0.95, 5.26]} yDom={[1.07, 5.41]} xZero={1.39} gate={[2.31, 3.05]} tickSize={11}
        layers={[{ data: cbHalo, r: 0.6, color: BLUE, o: 0.55 }, { data: cbHalo2, r: 0.6, color: BLUE, o: 0.6 }, { data: cbFringe, r: 1, color: BLUE, o: 0.8 }, { data: cbCore, r: 4.6, color: BLUE, o: 0.95, blur: true }]} />
      <Flow left={672.7} top={939} w={113.3} h={115} xDom={[1.1, 5.3]} yDom={[1.07, 5.41]} xZero={1.62} gate={[2.48, 3.08]} tickSize={11}
        layers={[{ data: crHalo, r: 0.6, color: RED, o: 0.65 }, { data: crHalo2, r: 0.6, color: RED, o: 0.7 }, { data: crFringe, r: 1, color: RED, o: 0.8 }, { data: crCore, r: 3.8, color: RED, o: 0.9, blur: true }]} />

      <svg width={788} height={1093} style={{ position: "absolute", left: 0, top: 0, pointerEvents: "none" }}>
        <T x={2} y={14} s={21} w="bold" c="#000">a</T>
        <T x={2} y={439} s={21} w="bold" c="#000">b</T>
        <T x={2} y={710} s={21} w="bold" c="#000">c</T>

        <Box x={29} y={16} w={739} h={28} />
        <T x={393} y={36} s={13.1} a="middle">EML cells day 16 post-transduction: transduced as indicated, sorted, expanded in SCF (non-skewing conditions)</T>
        <Box x={43} y={430} w={722} h={28} />
        <T x={409} y={449} s={13.1} a="middle">EML cells day 16 post-transduction: transduced as indicated, sorted, expanded in SCF (non-skewing conditions)</T>
        <Box x={32} y={712} w={421} h={28} />
        <T x={242} y={731} s={13.3} a="middle">Bone marrow precursors, cultured under non-skewing conditions</T>

        <T x={167} y={68} a="middle">MiG-empty</T>
        <T x={309} y={68} a="middle">ASXL1 (1–479)</T>
        <T x={452} y={68} a="middle">BAP1</T>
        {rowA.map((p, i) => <Quad key={i} {...p} />)}
        <T x={541} y={119}>Gated on GFP+ or Thy1.1+</T>

        <T x={167} y={230} a="middle">ASXL1 (1– 479)</T>
        <T x={311} y={230} a="middle">ASXL1 p.G646Wfs*12</T>
        <T x={458} y={230} a="middle">ASXL1 p.Y591X</T>
        <T x={601} y={230} a="middle">ASXL1 p.R404X</T>
        {rowA2.map((p, i) => <Quad key={i} {...p} yt={20} yb={6} xr={5} />)}
        <Box x={-2} y={260} w={78} h={26} c="#111" />
        <T x={19} y={277}>BAP1 +</T>
        <T x={674} y={268}>Gated on</T>
        <T x={674} y={284}>ASXL1+</T>
        <T x={674} y={300}>BAP1+</T>
        <T x={71} y={348} rot={-90}><Fc /></T>
        <Arrow x1={79} y1={350} x2={79} y2={297} />
        <Arrow x1={101} y1={367} x2={148} y2={367} />
        <T x={106} y={382}>c-kit</T>

        <Box x={55} y={474} w={238} h={27} c="#111" />
        <T x={64} y={492}>
          BAP1: <tspan fill={RED}>WT</tspan><tspan fill="#1f22c8"> or catalytically dead C91A</tspan>
        </T>
        <T x={22} y={577} a="middle" rot={-90}>% of maximum</T>
        <Arrow x1={53} y1={656} x2={100} y2={656} />
        <T x={55} y={672}>H2AK119Ub</T>
        <Arrow x1={194} y1={656} x2={241} y2={656} />
        <T x={196} y={672}>H3K27me3</T>

        <T x={422} y={492} a="middle">MiG-empty</T>
        <T x={560} y={494} a="middle" c={RED}>ASXL1 (1– 479) +</T>
        <T x={558} y={509} a="middle" c={RED}>BAP1</T>
        <T x={695} y={494} a="middle" c={BLUE}>ASXL1 (1–479) +</T>
        <T x={693} y={509} a="middle" c={BLUE}>BAP1-C91A</T>
        {rowB.map((p, i) => <Quad key={i} left={p.left} top={517.7} w={109} h={109} vals={p.vals} yt={16} yb={9} xl={10} xr={5} />)}
        <T x={334} y={637} rot={-90}><Fc /></T>
        <Arrow x1={340} y1={636} x2={340} y2={583} />
        <Arrow x1={357} y1={656} x2={404} y2={656} />
        <T x={365} y={672}>c-kit</T>

        {[["Day 0", 795], ["Day 1", 887], ["Day 5", 961], ["Day 7", 1043]].map(([d, y]: any) => (
          <g key={d}>
            <Box x={10} y={y} w={57} h={25} />
            <T x={38} y={y + 17} a="middle">{d}</T>
          </g>
        ))}
        <T x={95} y={812}>Lineage negative cells</T>
        <T x={95} y={828}>from bone marrow</T>
        <T x={159} y={857}>SCF, IL-6, IL-3</T>
        <Arrow x1={149.5} y1={835} x2={149.5} y2={888} />
        <T x={117} y={905}>Retroviral</T>
        <T x={117} y={921}>transduction</T>
        <Arrow x1={150} y1={927} x2={150} y2={959} />
        <T x={111} y={977}>FACS-sorting</T>
        <Arrow x1={147.5} y1={996} x2={147.5} y2={1038} />
        <T x={108} y={1058}>FACS analysis</T>

        <T x={368} y={770} a="middle">MIG-empty</T>
        <T x={373} y={802}>96%</T>
        <T x={285} y={880} rot={-90}>GFP</T>
        <Arrow x1={288} y1={889} x2={288} y2={834} />
        <Arrow x1={315} y1={917} x2={362} y2={917} />
        <T x={315} y={931}>Thy1.1</T>
        <Arrow x1={359} y1={858} x2={377} y2={933} c="#1c9a2c" />

        <T x={666} y={754} a="middle">ASXL1 (1– 479)–IRES-GFP +</T>
        <T x={662} y={770} a="middle">BAP1- IRES- Thy1.1</T>
        <T x={566} y={860} a="middle" rot={-90}>ASXL1 (1-479)</T>
        <Arrow x1={575} y1={894} x2={575} y2={840} />
        <Arrow x1={604} y1={913} x2={651} y2={913} />
        <T x={607} y={928}>BAP1</T>
        <T x={643} y={873} s={11.5}>62.6%</T>
        <T x={687} y={848} s={11.5}>24.3%</T>
        <Arrow x1={628} y1={867} x2={577} y2={933} c="#1c3fe0" />
        <Arrow x1={705} y1={855} x2={735} y2={933} c="#ee2c1c" />

        <Quad left={312.7} top={939} w={114} h={115} vals={["2.0", "7.62", "18.9", "71.5"]} yt={16} yb={6} xl={9} xr={2} />
        <Quad left={520.7} top={939} w={114.3} h={115} vals={["0", "2.49", "5.6", "91.9"]} yt={16} yb={6} xl={13} xr={3} />
        <Quad left={672.7} top={939} w={113.3} h={115} vals={["0", "46.5", "0", "53.5"]} yt={16} yb={6} xl={13} xr={2} />
        <T x={279} y={1050} rot={-90}><Fc /></T>
        <Arrow x1={285} y1={1051} x2={285} y2={997} />
        <Arrow x1={315} y1={1076} x2={362} y2={1076} />
        <T x={319} y={1088}>c-kit</T>
        <T x={486} y={1053} rot={-90}><Fc /></T>
        <Arrow x1={494} y1={1053} x2={494} y2={1000} />
        <Arrow x1={528} y1={1078} x2={575} y2={1078} />
        <T x={537} y={1090}>c-kit</T>
      </svg>
    </div>
  );
}
